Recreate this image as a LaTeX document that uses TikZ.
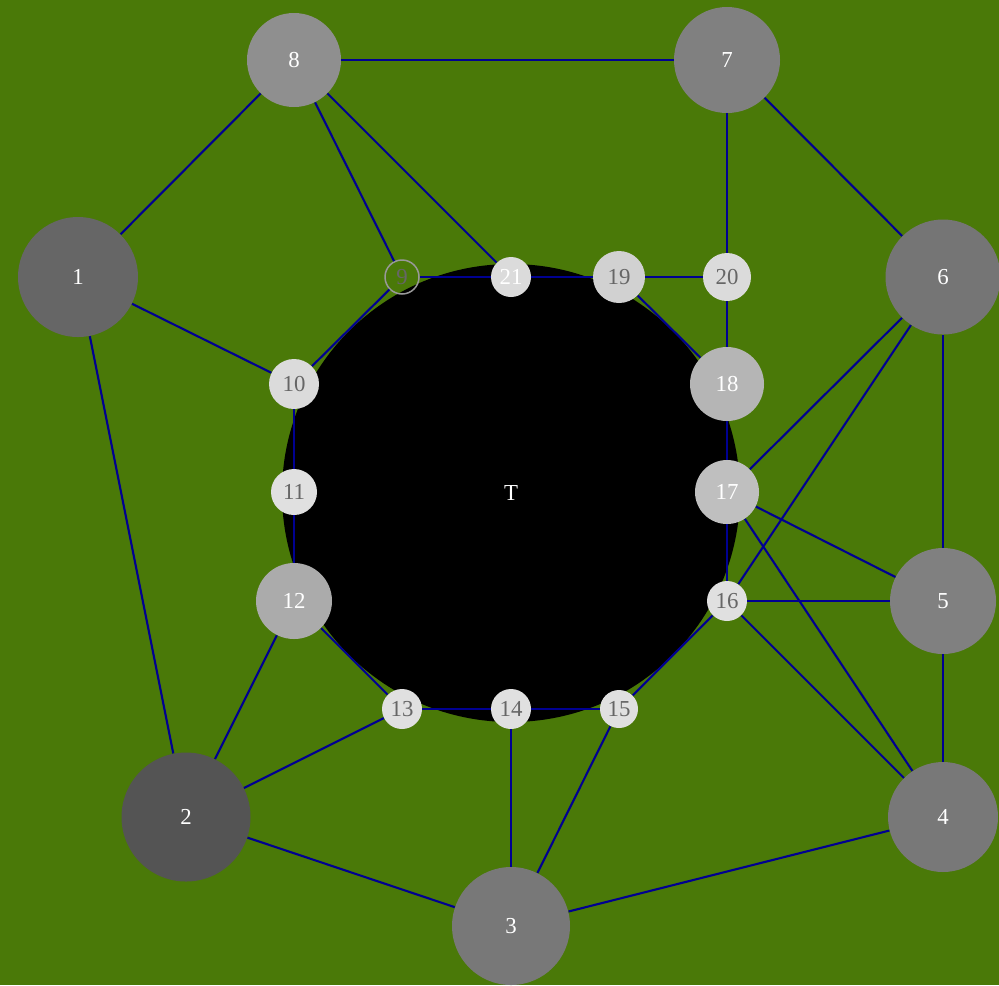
\documentclass[tikz,border=0pt]{standalone}
\usepackage{fontspec}
\setmainfont{Liberation Serif}
\usepackage{tikz}
\definecolor{lawn}{RGB}{74,121,8}
\definecolor{wire}{RGB}{0,0,145}
\definecolor{labelgray}{RGB}{102,102,102}

\begin{document}
\begin{tikzpicture}[x=0.2mm,y=-0.2mm,
	vertex/.style={circle,inner sep=0pt,text=white,font=\fontsize{13}{15}\selectfont},
	light/.style={vertex,text=labelgray},
	wire/.style={draw=wire,line width=0.42mm}]
	% background and the central disc
	\fill[lawn] (0,0) rectangle (999,985);
	\useasboundingbox (0,0) rectangle (999,985);
	\node[vertex,fill=black,minimum size=91.6mm] (T) at (511,493) {T};
	% outer ring
	\node[vertex,fill=black!60,minimum size=24mm] (n1) at (78,277) {1};
	\node[vertex,fill=black!67,minimum size=25.8mm] (n2) at (186,817) {2};
	\node[vertex,fill=black!53,minimum size=23.6mm] (n3) at (511,926) {3};
	\node[vertex,fill=black!53,minimum size=22mm] (n4) at (943,817) {4};
	\node[vertex,fill=black!50,minimum size=21.2mm] (n5) at (943,601) {5};
	\node[vertex,fill=black!54,minimum size=23mm] (n6) at (943,277) {6};
	\node[vertex,fill=black!50,minimum size=21.2mm] (n7) at (727,60) {7};
	\node[vertex,fill=black!44,minimum size=18.8mm] (n8) at (294,60) {8};
	% inner ring
	\node[light,draw=black!40,line width=0.3mm,minimum size=6.8mm] (n9) at (402,277) {9};
	\node[light,fill=black!14,minimum size=10mm] (n10) at (294,384) {10};
	\node[light,fill=black!12,minimum size=9.2mm] (n11) at (294,492) {11};
	\node[vertex,fill=black!33,minimum size=15.2mm] (n12) at (294,601) {12};
	\node[light,fill=black!12,minimum size=8mm] (n13) at (402,709) {13};
	\node[light,fill=black!12,minimum size=8mm] (n14) at (511,709) {14};
	\node[light,fill=black!12,minimum size=7.6mm] (n15) at (619,709) {15};
	\node[light,fill=black!12,minimum size=8mm] (n16) at (727,601) {16};
	\node[vertex,fill=black!25,minimum size=12.8mm] (n17) at (727,492) {17};
	\node[vertex,fill=black!29,minimum size=14.8mm] (n18) at (727,384) {18};
	\node[light,fill=black!18,minimum size=10.4mm] (n19) at (619,277) {19};
	\node[light,fill=black!14,minimum size=9.6mm] (n20) at (727,277) {20};
	\node[vertex,fill=black!14,minimum size=8mm] (n21) at (511,277) {21};
	% edges
	\foreach \a/\b in {8/7,8/1,8/9,8/21,7/20,7/6,1/10,1/2,9/21,21/19,19/20,
		9/10,19/18,20/18,18/17,17/16,10/11,11/12,12/13,12/2,13/14,14/15,
		15/16,13/2,14/3,15/3,2/3,3/4,4/5,5/6,6/17,6/16,17/5,17/4,16/5,16/4}
		\draw[wire] (n\a) -- (n\b);
\end{tikzpicture}
\end{document}
